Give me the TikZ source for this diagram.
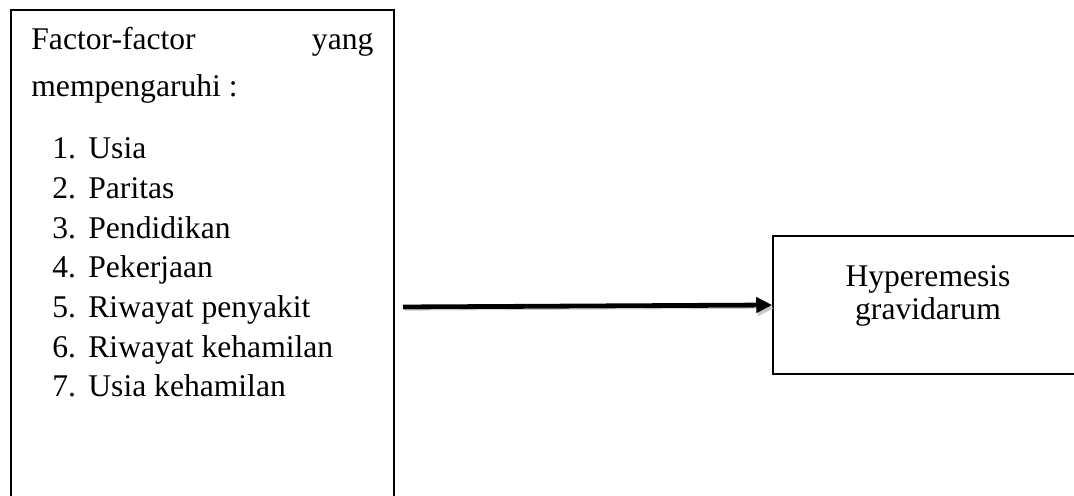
\documentclass[tikz,border=0pt]{standalone}
\usepackage{fontspec}
\setmainfont{Liberation Serif}
\usepackage{tikz}
\usetikzlibrary{shapes, arrows.meta, positioning}

\begin{document}
\begin{tikzpicture}[x=0.5pt, y=-0.5pt,
            font=\fontsize{15.8pt}{16.5pt}\selectfont,
            box/.style={draw, rectangle, line width=0.75pt, inner sep=0pt},
            txt/.style={inner sep=0pt, anchor=base west},
            arrow/.style={-{Triangle[length=8pt, width=7.5pt]}, line width=2.4pt,
                preaction={draw=black!22, transform canvas={shift={(0.8pt,-1.6pt)}}}}]

            \useasboundingbox (0,0) rectangle (1074,496);
            \clip (0,0) rectangle (1074,496);

            % kotak faktor
            \node[box, minimum width=191.5pt, minimum height=265pt] (faktor) at (202.5,275) {};
            \node[txt, text width=171pt] (judul) at (31,50) {Factor-factor\hfill yang};
            \node[txt] (judul2) at (31,97) {mempengaruhi :};
            \foreach \item [count=\i] in {Usia, Paritas, Pendidikan, Pekerjaan,
                Riwayat penyakit, Riwayat kehamilan, Usia kehamilan}
                \node[txt] (f\i) at (52,{159+39.6*(\i-1)}) {\makebox[18pt][l]{\i.}\item};

            % kotak hyperemesis
            \node[box, minimum width=155pt, minimum height=69pt] (hyper) at (928,305) {};
            \node[align=center, inner sep=0pt] (hypertext) at (928,296) {Hyperemesis\\gravidarum};

            \coordinate (src) at (403,307);
            \draw[arrow] (src) -- (hyper.west);
        \end{tikzpicture}
\end{document}
